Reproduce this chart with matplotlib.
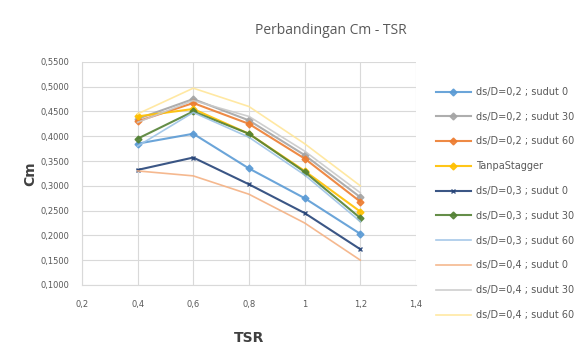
import matplotlib
matplotlib.use('Agg')
import matplotlib.pyplot as plt

tsr = [0.4, 0.6, 0.8, 1.0, 1.2]

labels = ['ds/D=0,2 ; sudut 0', 'ds/D=0,2 ; sudut 30', 'ds/D=0,2 ; sudut 60',
          'TanpaStagger',
          'ds/D=0,3 ; sudut 0', 'ds/D=0,3 ; sudut 30', 'ds/D=0,3 ; sudut 60',
          'ds/D=0,4 ; sudut 0', 'ds/D=0,4 ; sudut 30', 'ds/D=0,4 ; sudut 60']

cm_02_0 = [0.385, 0.405, 0.335, 0.275, 0.203]
cm_02_30 = [0.435, 0.475, 0.432, 0.362, 0.277]
cm_02_60 = [0.430, 0.467, 0.425, 0.355, 0.268]
cm_tanpa = [0.440, 0.455, 0.405, 0.330, 0.248]
cm_03_0 = [0.332, 0.357, 0.303, 0.245, 0.172]
cm_03_30 = [0.395, 0.450, 0.405, 0.328, 0.235]
cm_03_60 = [0.380, 0.448, 0.398, 0.322, 0.228]
cm_04_0 = [0.330, 0.320, 0.283, 0.225, 0.150]
cm_04_30 = [0.428, 0.472, 0.440, 0.370, 0.286]
cm_04_60 = [0.445, 0.497, 0.460, 0.385, 0.300]

series = [cm_02_0, cm_02_30, cm_02_60, cm_tanpa, cm_03_0,
          cm_03_30, cm_03_60, cm_04_0, cm_04_30, cm_04_60]
colors = ['#5B9BD5', '#A5A5A5', '#ED7D31', '#FFC000', '#264478',
          '#548235', '#9DC3E6', '#F4B183', '#C9C9C9', '#FFE699']
markers = ['D', 'D', 'D', 'D', 'x', 'D', None, None, None, None]
widths = [1.5, 1.5, 1.5, 1.5, 1.5, 1.5, 1.2, 1.2, 1.2, 1.2]

fig = plt.figure(figsize=(5.85, 3.62), dpi=100)
ax = fig.add_axes([0.14, 0.213, 0.571, 0.616])

for vals, lab, c, m, w in zip(series, labels, colors, markers, widths):
    ax.plot(tsr, vals, color=c, marker=m, markersize=3.5, linewidth=w,
            label=lab, alpha=0.9)

ax.set_xlim(0.2, 1.4)
ax.set_ylim(0.1, 0.55)
ax.set_xticks([0.2, 0.4, 0.6, 0.8, 1.0, 1.2, 1.4])
ax.set_xticklabels(['0,2', '0,4', '0,6', '0,8', '1', '1,2', '1,4'])
yt = [0.10, 0.15, 0.20, 0.25, 0.30, 0.35, 0.40, 0.45, 0.50, 0.55]
ax.set_yticks(yt)
ax.set_yticklabels(['0,' + ('%.4f' % v)[2:] for v in yt])
ax.grid(True, color='#D9D9D9', linewidth=0.8)
ax.set_axisbelow(True)
for s in ax.spines.values():
    s.set_visible(False)
ax.spines['left'].set_visible(True)
ax.spines['left'].set_color('#D9D9D9')
ax.spines['bottom'].set_visible(True)
ax.spines['bottom'].set_color('#D9D9D9')
ax.tick_params(length=0, labelsize=6, labelcolor='#595959')
ax.tick_params(axis='x', pad=11)
ax.tick_params(axis='y', pad=9)

ax.set_xlabel('TSR', fontsize=10, fontweight='bold', color='#404040', labelpad=16)
ax.set_ylabel('Cm', fontsize=10, fontweight='bold', color='#404040', labelpad=2)
fig.text(0.565, 0.915, 'Perbandingan Cm - TSR', ha='center', va='center',
         fontsize=10, color='#595959', family='Open Sans')

fig.legend(loc='center left', bbox_to_anchor=(0.73, 0.438), frameon=False,
           fontsize=7, labelcolor='#595959', handlelength=3.6, labelspacing=1.52,
           handletextpad=0.5)

fig.savefig('out.png', dpi=100)
